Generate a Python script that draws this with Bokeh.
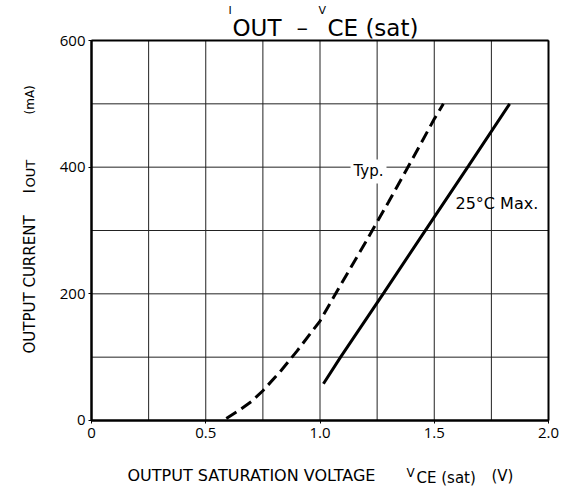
import math
from bokeh.plotting import figure
from bokeh.models import Range1d, FixedTicker, Label
from bokeh.embed import file_html
from bokeh.resources import INLINE

# ---- data ----
typ_v = [0.59, 0.65, 0.70, 0.75, 0.83, 0.90, 1.00, 1.06, 1.20, 1.30, 1.40, 1.50, 1.54]
typ_i = [3, 17, 30, 47, 79, 110, 157, 195, 282, 345, 410, 476, 500]

max_v = [1.015, 1.09, 1.28, 1.47, 1.65, 1.83]
max_i = [58, 100, 202, 305, 402, 500]

x_ticks = [0, 0.5, 1.0, 1.5, 2.0]
x_tick_labels = {0: "0", 0.5: "0.5", 1.0: "1.0", 1.5: "1.5", 2.0: "2.0"}
y_ticks = [0, 200, 400, 600]
x_grid = [0, 0.25, 0.5, 0.75, 1.0, 1.25, 1.5, 1.75, 2.0]
y_grid = [0, 100, 200, 300, 400, 500, 600]

TICK_FONT = "Open Sans"
FONT = "DejaVu Sans"
X0, X1 = x_grid[0], x_grid[-1]
Y0, Y1 = y_grid[0], y_grid[-1]

# the frame spans the whole canvas; the axes sit at fixed locations inside it
p = figure(width=570, height=488, output_backend="svg", toolbar_location=None,
           x_range=Range1d(-0.39825, 2.09628), y_range=Range1d(-107.37, 663.16),
           min_border_left=0, min_border_right=0, min_border_top=0, min_border_bottom=0)
p.background_fill_color = "white"
p.border_fill_color = "white"
p.outline_line_color = None
p.xgrid.visible = False
p.ygrid.visible = False

# grid lines (every 0.25 V and 100 mA)
p.segment(x0=x_grid, y0=[Y0] * len(x_grid), x1=x_grid, y1=[Y1] * len(x_grid),
          line_color="#222222", line_width=1)
p.segment(x0=[X0] * len(y_grid), y0=y_grid, x1=[X1] * len(y_grid), y1=y_grid,
          line_color="#222222", line_width=1)
# heavier plot border
p.segment(x0=[X0, X1, X0, X0], y0=[Y1, Y0, Y0, Y0], x1=[X1, X1, X1, X0], y1=[Y1, Y1, Y0, Y1],
          line_color="black", line_width=2)

for ax in (p.xaxis[0], p.yaxis[0]):
    ax.fixed_location = 0
    ax.axis_line_color = "black"
    ax.axis_line_width = 2
    ax.major_tick_in = 0
    ax.major_tick_out = 3
    ax.major_tick_line_color = "black"
    ax.minor_tick_line_color = None
    ax.major_label_text_font = TICK_FONT
    ax.major_label_text_font_size = "15px"
    ax.major_label_text_color = "black"
p.xaxis[0].bounds = (X0, X1)
p.yaxis[0].bounds = (Y0, Y1)
p.xaxis[0].ticker = FixedTicker(ticks=x_ticks)
p.xaxis[0].major_label_overrides = x_tick_labels
p.xaxis[0].major_label_standoff = 5
p.yaxis[0].ticker = FixedTicker(ticks=y_ticks)
p.yaxis[0].major_label_standoff = 3

# curves
p.line(typ_v, typ_i, line_color="black", line_width=3, line_dash="12 6")
p.line(max_v, max_i, line_color="black", line_width=3)

def lab(x, y, text, size, angle=0.0, bg=None, pad=0):
    l = Label(x=x, y=y, text=text, text_font=FONT, text_font_size=size,
              text_color="black", text_baseline="alphabetic", text_align="left",
              angle=angle)
    if bg is not None:
        l.background_fill_color = bg
        l.padding = pad
    p.add_layout(l)

# curve annotations
lab(1.1335, 393.2, "Typ.", "15px", bg="white", pad=3)
lab(1.5930, 342.6, "25°C Max.", "16px")

# title
lab(0.5996, 647.4, "I", "11px")
lab(0.6171, 620.5, "OUT", "23px")
lab(0.8972, 620.5, "–", "23px")
lab(0.9934, 647.4, "V", "11px")
lab(1.0328, 620.5, "CE (sat)", "23px")

# x-axis label
lab(0.1576, -86.84, "OUTPUT SATURATION VOLTAGE", "16px")
lab(1.3786, -83.68, "V", "12px")
lab(1.4223, -91.58, "CE (sat)", "15px")
lab(1.7505, -88.42, "(V)", "15px")

# y-axis label (rotated)
rot = math.pi / 2
lab(-0.2713, 105.8, "OUTPUT CURRENT", "15px", angle=rot)
lab(-0.2670, 358.4, "I", "15px", angle=rot)
lab(-0.2670, 367.9, "OUT", "13px", angle=rot)
lab(-0.2670, 483.2, "(mA)", "12px", angle=rot)

open("out.html", "w").write(file_html(p, INLINE))
